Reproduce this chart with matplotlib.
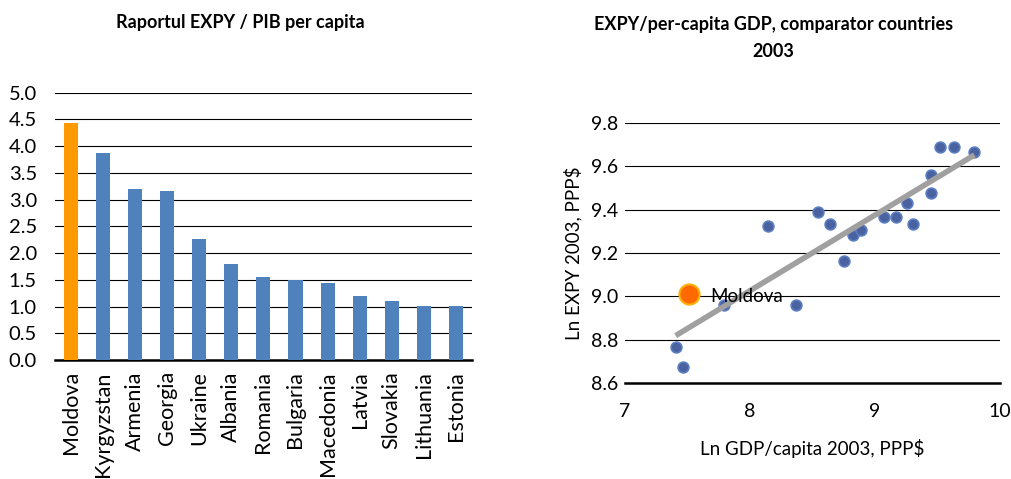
import numpy as np
import matplotlib
matplotlib.use("Agg")
import matplotlib.pyplot as plt

plt.rcParams['font.family'] = ['Lato', 'DejaVu Sans']

# ---------------------------------------------------------
# data
# ---------------------------------------------------------
countries = ["Moldova", "Kyrgyzstan", "Armenia", "Georgia", "Ukraine", "Albania",
             "Romania", "Bulgaria", "Macedonia", "Latvia", "Slovakia", "Lithuania", "Estonia"]
ratio = [4.43, 3.87, 3.20, 3.16, 2.26, 1.80, 1.55, 1.50, 1.44, 1.20, 1.10, 1.01, 1.01]

ln_gdp = [7.79, 7.405, 7.461, 8.144, 8.371, 8.541, 8.64, 8.755, 8.827, 8.885,
          9.069, 9.165, 9.253, 9.307, 9.448, 9.448, 9.52, 9.635, 9.795]
ln_expy = [8.959, 8.766, 8.676, 9.326, 8.959, 9.389, 9.332, 9.162, 9.284, 9.306,
           9.368, 9.368, 9.432, 9.332, 9.478, 9.559, 9.686, 9.686, 9.667]
moldova_gdp = [7.515]
moldova_expy = [9.012]

bar_title = "Raportul EXPY / PIB per capita"
sc_title = "EXPY/per-capita GDP, comparator countries\n2003"

fig = plt.figure(figsize=(10.12, 4.79), dpi=100)

# ---------------------------------------------------------
# left: bar chart
# ---------------------------------------------------------
ax1 = fig.add_axes([0.0543, 0.2484, 0.412, 0.558])
colors = ['#FF9900'] + ['#4F81BD'] * (len(countries) - 1)
x = np.arange(len(countries))
ax1.bar(x, ratio, width=0.44, color=colors, zorder=3)
ax1.set_xlim(-0.5, len(countries) - 0.5)
ax1.set_ylim(0, 5)
yt = np.arange(0, 5.01, 0.5)
ax1.set_yticks(yt)
ax1.set_yticklabels([f"{v:.1f}" for v in yt], fontsize=14.5)
ax1.set_xticks(x)
ax1.set_xticklabels(countries, rotation=90, fontsize=15.5)
ax1.yaxis.grid(True, color='black', linewidth=0.8, zorder=0)
for s in ['top', 'right', 'left']:
    ax1.spines[s].set_visible(False)
ax1.spines['bottom'].set_linewidth(1.8)
ax1.tick_params(length=0)
ax1.tick_params(axis='x', pad=8)
ax1.tick_params(axis='y', pad=13)
fig.text(0.237, 0.953, bar_title, ha='center', va='center', fontsize=13, fontweight='bold')

# ---------------------------------------------------------
# right: scatter with trend line
# ---------------------------------------------------------
ax2 = fig.add_axes([0.6176, 0.1998, 0.3706, 0.544])
all_x = ln_gdp + moldova_gdp
all_y = ln_expy + moldova_expy
slope, icept = np.polyfit(all_x, all_y, 1)
xs = np.array([min(all_x), max(all_x)])
ax2.plot(xs, slope * xs + icept, color='#A0A0A0', linewidth=4, zorder=4,
         solid_capstyle='butt')
ax2.scatter(ln_gdp, ln_expy, s=60, color='#4A62A0', edgecolors='#5B7FC2',
            linewidths=1.2, zorder=3)
ax2.scatter(moldova_gdp, moldova_expy, s=210, color='#FF6A00', edgecolors='#FFB000',
            linewidths=1.5, zorder=5)
ax2.text(moldova_gdp[0] + 0.17, moldova_expy[0] - 0.012, "Moldova", fontsize=13.5,
         va='center', ha='left', zorder=6)
ax2.set_xlim(7, 10)
ax2.set_ylim(8.6, 9.8)
ax2.set_xticks([7, 8, 9, 10])
yt2 = np.arange(8.6, 9.81, 0.2)
ax2.set_yticks(yt2)
ax2.set_yticklabels([f"{v:.1f}" for v in yt2], fontsize=14)
ax2.set_xticklabels(["7", "8", "9", "10"], fontsize=14)
ax2.yaxis.grid(True, color='black', linewidth=0.8, zorder=0)
for s in ['top', 'right', 'left']:
    ax2.spines[s].set_visible(False)
ax2.spines['bottom'].set_linewidth(1.8)
ax2.tick_params(length=0)
ax2.tick_params(axis='x', pad=14)
ax2.tick_params(axis='y', pad=5)
ax2.set_xlabel("Ln GDP/capita 2003, PPP$", fontsize=13.5, labelpad=14)
ax2.set_ylabel("Ln EXPY 2003, PPP$", fontsize=13.5, labelpad=6)
fig.text(0.764, 0.921, sc_title, ha='center', va='center', fontsize=13,
         fontweight='bold', linespacing=1.75)

fig.savefig("out.png", dpi=100)
